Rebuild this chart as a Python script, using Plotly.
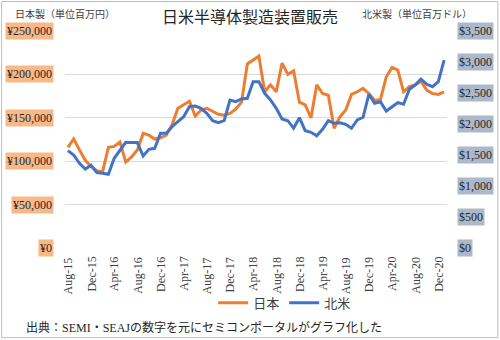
import plotly.graph_objects as go

# Monthly sales, Aug 2015 .. Jan 2021
months = [
    "Aug-15", "Sep-15", "Oct-15", "Nov-15", "Dec-15", "Jan-16", "Feb-16", "Mar-16",
    "Apr-16", "May-16", "Jun-16", "Jul-16", "Aug-16", "Sep-16", "Oct-16", "Nov-16",
    "Dec-16", "Jan-17", "Feb-17", "Mar-17", "Apr-17", "May-17", "Jun-17", "Jul-17",
    "Aug-17", "Sep-17", "Oct-17", "Nov-17", "Dec-17", "Jan-18", "Feb-18", "Mar-18",
    "Apr-18", "May-18", "Jun-18", "Jul-18", "Aug-18", "Sep-18", "Oct-18", "Nov-18",
    "Dec-18", "Jan-19", "Feb-19", "Mar-19", "Apr-19", "May-19", "Jun-19", "Jul-19",
    "Aug-19", "Sep-19", "Oct-19", "Nov-19", "Dec-19", "Jan-20", "Feb-20", "Mar-20",
    "Apr-20", "May-20", "Jun-20", "Jul-20", "Aug-20", "Sep-20", "Oct-20", "Nov-20",
    "Dec-20", "Jan-21",
]

# Japan-made equipment, million yen
japan = [
    116000, 125600, 113000, 101000, 94000, 89000, 88000, 116000,
    117000, 122000, 99000, 105000, 113000, 132000, 130000, 125500,
    127000, 130000, 142000, 161000, 165000, 169000, 152000, 159000,
    161000, 157000, 154000, 153000, 155000, 160000, 168000, 212000,
    217000, 221000, 180000, 188000, 180000, 213000, 200000, 204000,
    168000, 165000, 150000, 188000, 178000, 176000, 138000, 151000,
    159000, 177000, 180000, 184000, 178000, 170000, 171000, 197000,
    208000, 205000, 180000, 186000, 188000, 192000, 182000, 178000,
    177000, 180000,
]

# North America-made equipment, million dollars
north_america = [
    1570, 1500, 1366, 1274, 1334, 1215, 1205, 1188,
    1447, 1581, 1705, 1700, 1700, 1484, 1592, 1608,
    1850, 1850, 1957, 2037, 2118, 2279, 2290, 2253,
    2172, 2053, 2021, 2053, 2387, 2360, 2403, 2414,
    2683, 2683, 2495, 2387, 2253, 2081, 2053, 1931,
    2102, 1892, 1866, 1811, 1914, 2053, 2011, 2021,
    1995, 1931, 2065, 2108, 2479, 2334, 2360, 2210,
    2279, 2344, 2318, 2560, 2629, 2726, 2640, 2602,
    2683, 3032,
]

yen_ticks = [0, 50000, 100000, 150000, 200000, 250000]
yen_labels = ["¥0", "¥50,000", "¥100,000", "¥150,000", "¥200,000", "¥250,000"]
usd_ticks = [0, 500, 1000, 1500, 2000, 2500, 3000, 3500]
usd_labels = ["$0", "$500", "$1,000", "$1,500", "$2,000", "$2,500", "$3,000", "$3,500"]

FONT = "Liberation Serif, Times New Roman, Noto Sans CJK JP, serif"
ORANGE = "#ED7D31"
BLUE = "#4472C4"
TEXT = "#262626"

idx = list(range(len(months)))
tick_idx = idx[::4]

fig = go.Figure()
fig.add_trace(go.Scatter(x=idx, y=japan, name="日本", mode="lines",
                         line=dict(color=ORANGE, width=3), yaxis="y"))
fig.add_trace(go.Scatter(x=idx, y=north_america, name="北米", mode="lines",
                         line=dict(color=BLUE, width=3), yaxis="y2"))

annotations = []
# Left-axis labels on a light orange background
for v, t in zip(yen_ticks, yen_labels):
    annotations.append(dict(x=0, xref="paper", xanchor="right", xshift=-11,
                            y=v, yref="y", yanchor="middle", text=t, showarrow=False,
                            bgcolor="#F8B888", borderpad=1,
                            font=dict(family=FONT, size=12, color=TEXT)))
# Right-axis labels on a grey-blue background
for v, t in zip(usd_ticks, usd_labels):
    annotations.append(dict(x=1, xref="paper", xanchor="left", xshift=10,
                            y=v, yref="y2", yanchor="middle", text=t, showarrow=False,
                            bgcolor="#ADB9CA", borderpad=1,
                            font=dict(family=FONT, size=12, color=TEXT)))
# Month labels every four months, rotated
for i in tick_idx:
    annotations.append(dict(x=i, xref="x", xanchor="center", y=0, yref="paper",
                            yanchor="top", yshift=-7, textangle=-90, text=months[i],
                            showarrow=False, font=dict(family=FONT, size=12, color="#404040")))
# Axis unit captions above each value axis
annotations += [
    dict(x=0, xref="paper", xanchor="left", xshift=-52, y=1.08, yref="paper", yanchor="middle",
         text="日本製（単位百万円）", showarrow=False, align="left",
         font=dict(family="Noto Sans CJK JP", size=10, color="#404040")),
    dict(x=1, xref="paper", xanchor="right", xshift=27, y=1.08, yref="paper", yanchor="middle",
         text="北米製（単位百万ドル）", showarrow=False, align="right",
         font=dict(family="Noto Sans CJK JP", size=10, color="#404040")),
    dict(x=-0.108, xref="paper", xanchor="left", y=-0.368, yref="paper", yanchor="middle",
         text="出典：SEMI・SEAJの数字を元にセミコンポータルがグラフ化した", showarrow=False,
         font=dict(family=FONT, size=12, color=TEXT)),
]

fig.update_layout(
    width=500, height=340,
    margin=dict(l=65, r=53, t=31, b=92),
    paper_bgcolor="white", plot_bgcolor="white",
    font=dict(family=FONT, size=11, color="#404040"),
    title=dict(text="日米半導体製造装置販売", x=0.5, xanchor="center", y=0.948, yanchor="middle",
               font=dict(family=FONT, size=16, color=TEXT)),
    xaxis=dict(range=[-0.5, len(months) - 0.5], showticklabels=False, showgrid=False,
               zeroline=False, showline=False, ticks=""),
    yaxis=dict(range=[0, 250000], tickvals=yen_ticks, showticklabels=False,
               showgrid=True, gridcolor="#D9D9D9", gridwidth=1, zeroline=False, ticks=""),
    yaxis2=dict(range=[0, 3500], overlaying="y", side="right", showticklabels=False,
                showgrid=False, zeroline=False, ticks=""),
    legend=dict(orientation="h", x=0.575, xanchor="center", y=-0.253, yanchor="middle",
                font=dict(family=FONT, size=13, color="#404040"), itemwidth=30),
    annotations=annotations,
    shapes=[dict(type="rect", xref="paper", yref="paper",
                 x0=-0.166, x1=1.133, y0=-0.413, y1=1.136,
                 line=dict(color="#BFBFBF", width=1), layer="below")],
    showlegend=True,
)

fig.write_html("out.html")
